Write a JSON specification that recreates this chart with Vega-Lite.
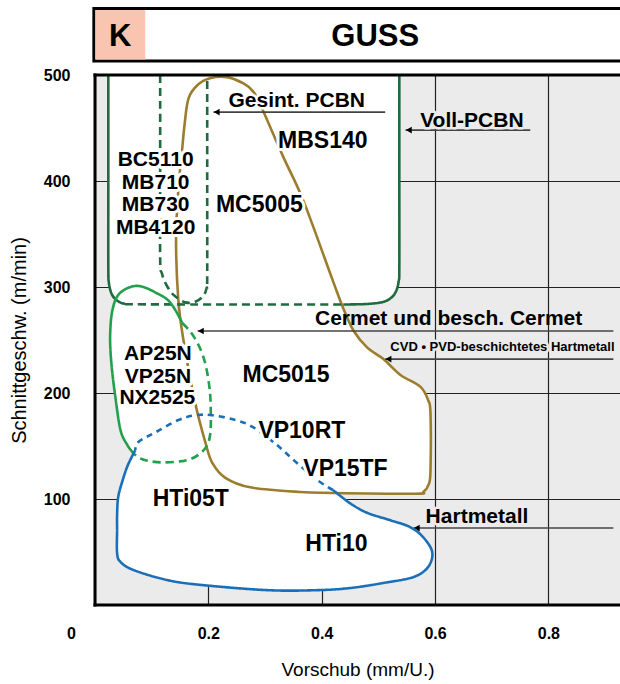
{
  "$schema": "https://vega.github.io/schema/vega-lite/v6.json",
  "width": 525,
  "height": 530,
  "autosize": "none",
  "padding": {"left": 95, "top": 75, "right": 0, "bottom": 79},
  "background": "white",
  "config": {
    "font": "Liberation Sans",
    "view": {"fill": "#ebebeb", "stroke": null},
    "axis": {"gridColor": "#222222", "gridWidth": 1.2, "ticks": false, "tickSize": 0, "domain": false, "labelColor": "black", "titleColor": "black", "labelFontWeight": "bold", "labelFontSize": 16, "titleFontWeight": "normal", "titleFontSize": 20, "labelFont": "Liberation Sans", "titleFont": "Liberation Sans"}
  },
  "datasets": {
    "fills": [
      {"s":"voll","i":1,"x":0.0235,"y":520},{"s":"voll","i":2,"x":0.0235,"y":500},{"s":"voll","i":3,"x":0.0235,"y":400},{"s":"voll","i":4,"x":0.0235,"y":320},{"s":"voll","i":5,"x":0.0245,"y":304},{"s":"voll","i":6,"x":0.029,"y":294},{"s":"voll","i":7,"x":0.036,"y":288.5},{"s":"voll","i":8,"x":0.045,"y":285.3},{"s":"voll","i":9,"x":0.053,"y":284},{"s":"voll","i":10,"x":0.2,"y":283.5},{"s":"voll","i":11,"x":0.3,"y":283.5},{"s":"voll","i":12,"x":0.438,"y":283.5},{"s":"voll","i":13,"x":0.48,"y":284},{"s":"voll","i":14,"x":0.509,"y":286},{"s":"voll","i":15,"x":0.524,"y":290.5},{"s":"voll","i":16,"x":0.532,"y":297},{"s":"voll","i":17,"x":0.536,"y":306},{"s":"voll","i":18,"x":0.537,"y":318},{"s":"voll","i":19,"x":0.537,"y":400},{"s":"voll","i":20,"x":0.537,"y":500},{"s":"voll","i":21,"x":0.537,"y":520},{"s":"voll","i":22,"x":0.3,"y":530},
      {"s":"brown","i":1,"x":0.147,"y":391.5},{"s":"brown","i":2,"x":0.154,"y":431},{"s":"brown","i":3,"x":0.158,"y":453},{"s":"brown","i":4,"x":0.165,"y":478},{"s":"brown","i":5,"x":0.181,"y":490.6},{"s":"brown","i":6,"x":0.203,"y":497},{"s":"brown","i":7,"x":0.233,"y":498},{"s":"brown","i":8,"x":0.262,"y":492},{"s":"brown","i":9,"x":0.278,"y":485},{"s":"brown","i":10,"x":0.29,"y":474},{"s":"brown","i":11,"x":0.332,"y":423},{"s":"brown","i":12,"x":0.368,"y":381},{"s":"brown","i":13,"x":0.419,"y":307},{"s":"brown","i":14,"x":0.438,"y":280},{"s":"brown","i":15,"x":0.456,"y":259},{"s":"brown","i":16,"x":0.48,"y":243},{"s":"brown","i":17,"x":0.509,"y":232},{"s":"brown","i":18,"x":0.539,"y":217},{"s":"brown","i":19,"x":0.574,"y":206},{"s":"brown","i":20,"x":0.588,"y":193},{"s":"brown","i":21,"x":0.592,"y":181},{"s":"brown","i":22,"x":0.592,"y":127},{"s":"brown","i":23,"x":0.589,"y":114},{"s":"brown","i":24,"x":0.58,"y":107},{"s":"brown","i":25,"x":0.565,"y":105},{"s":"brown","i":26,"x":0.42,"y":105.7},{"s":"brown","i":27,"x":0.362,"y":106.6},{"s":"brown","i":28,"x":0.274,"y":111},{"s":"brown","i":29,"x":0.23,"y":120},{"s":"brown","i":30,"x":0.207,"y":134},{"s":"brown","i":31,"x":0.195,"y":153},{"s":"brown","i":32,"x":0.177,"y":190},{"s":"brown","i":33,"x":0.156,"y":250},{"s":"brown","i":34,"x":0.147,"y":288},{"s":"brown","i":35,"x":0.143,"y":344},
      {"s":"cermet","i":1,"x":0.154,"y":266},{"s":"cermet","i":2,"x":0.142,"y":278},{"s":"cermet","i":3,"x":0.128,"y":288},{"s":"cermet","i":4,"x":0.106,"y":295},{"s":"cermet","i":5,"x":0.088,"y":299.5},{"s":"cermet","i":6,"x":0.071,"y":301},{"s":"cermet","i":7,"x":0.052,"y":297.5},{"s":"cermet","i":8,"x":0.038,"y":290},{"s":"cermet","i":9,"x":0.03,"y":276},{"s":"cermet","i":10,"x":0.027,"y":259},{"s":"cermet","i":11,"x":0.027,"y":243},{"s":"cermet","i":12,"x":0.03,"y":222},{"s":"cermet","i":13,"x":0.036,"y":196},{"s":"cermet","i":14,"x":0.045,"y":165},{"s":"cermet","i":15,"x":0.057,"y":151},{"s":"cermet","i":16,"x":0.068,"y":143},{"s":"cermet","i":17,"x":0.079,"y":138.5},{"s":"cermet","i":18,"x":0.093,"y":136},{"s":"cermet","i":19,"x":0.118,"y":134.5},{"s":"cermet","i":20,"x":0.15,"y":135.5},{"s":"cermet","i":21,"x":0.172,"y":138.5},{"s":"cermet","i":22,"x":0.189,"y":144.5},{"s":"cermet","i":23,"x":0.199,"y":152},{"s":"cermet","i":24,"x":0.204,"y":165},{"s":"cermet","i":25,"x":0.204,"y":190},{"s":"cermet","i":26,"x":0.202,"y":205},{"s":"cermet","i":27,"x":0.197,"y":222},{"s":"cermet","i":28,"x":0.19,"y":236},{"s":"cermet","i":29,"x":0.18,"y":248},{"s":"cermet","i":30,"x":0.168,"y":258},
      {"s":"hm","i":1,"x":0.071,"y":146},{"s":"hm","i":2,"x":0.058,"y":132},{"s":"hm","i":3,"x":0.049,"y":118},{"s":"hm","i":4,"x":0.041,"y":102},{"s":"hm","i":5,"x":0.039,"y":85},{"s":"hm","i":6,"x":0.039,"y":71},{"s":"hm","i":7,"x":0.039,"y":49},{"s":"hm","i":8,"x":0.045,"y":40.6},{"s":"hm","i":9,"x":0.068,"y":33},{"s":"hm","i":10,"x":0.127,"y":23.6},{"s":"hm","i":11,"x":0.186,"y":19},{"s":"hm","i":12,"x":0.304,"y":14},{"s":"hm","i":13,"x":0.392,"y":14},{"s":"hm","i":14,"x":0.45,"y":16},{"s":"hm","i":15,"x":0.509,"y":20.8},{"s":"hm","i":16,"x":0.562,"y":26.4},{"s":"hm","i":17,"x":0.588,"y":36},{"s":"hm","i":18,"x":0.595,"y":50},{"s":"hm","i":19,"x":0.579,"y":64},{"s":"hm","i":20,"x":0.556,"y":73.5},{"s":"hm","i":21,"x":0.521,"y":80},{"s":"hm","i":22,"x":0.48,"y":87},{"s":"hm","i":23,"x":0.45,"y":96},{"s":"hm","i":24,"x":0.42,"y":108.5},{"s":"hm","i":25,"x":0.392,"y":118},{"s":"hm","i":26,"x":0.35,"y":137},{"s":"hm","i":27,"x":0.321,"y":151},{"s":"hm","i":28,"x":0.278,"y":168},{"s":"hm","i":29,"x":0.248,"y":174.5},{"s":"hm","i":30,"x":0.207,"y":179},{"s":"hm","i":31,"x":0.177,"y":179},{"s":"hm","i":32,"x":0.147,"y":174.5},{"s":"hm","i":33,"x":0.107,"y":163},{"s":"hm","i":34,"x":0.077,"y":154}
    ],
    "strokes": [
      {"p":"voll_l","i":1,"x":0.0235,"y":500},{"p":"voll_l","i":2,"x":0.0235,"y":400},{"p":"voll_l","i":3,"x":0.0235,"y":320},{"p":"voll_l","i":4,"x":0.0245,"y":304},{"p":"voll_l","i":5,"x":0.029,"y":294},{"p":"voll_l","i":6,"x":0.036,"y":288.5},{"p":"voll_l","i":7,"x":0.045,"y":285.3},{"p":"voll_l","i":8,"x":0.053,"y":284},
      {"p":"voll_b","i":1,"x":0.053,"y":283.7},{"p":"voll_b","i":2,"x":0.2,"y":283.5},{"p":"voll_b","i":3,"x":0.3,"y":283.5},{"p":"voll_b","i":4,"x":0.438,"y":283.5},
      {"p":"voll_r","i":1,"x":0.438,"y":283.5},{"p":"voll_r","i":2,"x":0.48,"y":284},{"p":"voll_r","i":3,"x":0.509,"y":286},{"p":"voll_r","i":4,"x":0.524,"y":290.5},{"p":"voll_r","i":5,"x":0.532,"y":297},{"p":"voll_r","i":6,"x":0.536,"y":306},{"p":"voll_r","i":7,"x":0.537,"y":318},{"p":"voll_r","i":8,"x":0.537,"y":400},{"p":"voll_r","i":9,"x":0.537,"y":500},
      {"p":"gesint","i":1,"x":0.115,"y":500},{"p":"gesint","i":2,"x":0.115,"y":400},{"p":"gesint","i":3,"x":0.115,"y":325},{"p":"gesint","i":4,"x":0.118,"y":313},{"p":"gesint","i":5,"x":0.124,"y":304},{"p":"gesint","i":6,"x":0.133,"y":296},{"p":"gesint","i":7,"x":0.142,"y":291},{"p":"gesint","i":8,"x":0.159,"y":285.5},{"p":"gesint","i":9,"x":0.177,"y":286},{"p":"gesint","i":10,"x":0.191,"y":291.5},{"p":"gesint","i":11,"x":0.197,"y":299},{"p":"gesint","i":12,"x":0.198,"y":308},{"p":"gesint","i":13,"x":0.198,"y":400},{"p":"gesint","i":14,"x":0.198,"y":500},
      {"p":"cermet_s","i":1,"x":0.154,"y":266},{"p":"cermet_s","i":2,"x":0.142,"y":278},{"p":"cermet_s","i":3,"x":0.128,"y":288},{"p":"cermet_s","i":4,"x":0.106,"y":295},{"p":"cermet_s","i":5,"x":0.088,"y":299.5},{"p":"cermet_s","i":6,"x":0.071,"y":301},{"p":"cermet_s","i":7,"x":0.052,"y":297.5},{"p":"cermet_s","i":8,"x":0.038,"y":290},{"p":"cermet_s","i":9,"x":0.03,"y":276},{"p":"cermet_s","i":10,"x":0.027,"y":259},{"p":"cermet_s","i":11,"x":0.027,"y":243},{"p":"cermet_s","i":12,"x":0.03,"y":222},{"p":"cermet_s","i":13,"x":0.036,"y":196},{"p":"cermet_s","i":14,"x":0.045,"y":165},{"p":"cermet_s","i":15,"x":0.057,"y":151},{"p":"cermet_s","i":16,"x":0.068,"y":143},
      {"p":"cermet_d","i":1,"x":0.154,"y":266},{"p":"cermet_d","i":2,"x":0.168,"y":258},{"p":"cermet_d","i":3,"x":0.18,"y":248},{"p":"cermet_d","i":4,"x":0.19,"y":236},{"p":"cermet_d","i":5,"x":0.197,"y":222},{"p":"cermet_d","i":6,"x":0.202,"y":205},{"p":"cermet_d","i":7,"x":0.204,"y":190},{"p":"cermet_d","i":8,"x":0.204,"y":165},{"p":"cermet_d","i":9,"x":0.199,"y":152},{"p":"cermet_d","i":10,"x":0.189,"y":144.5},{"p":"cermet_d","i":11,"x":0.172,"y":138.5},{"p":"cermet_d","i":12,"x":0.15,"y":135.5},{"p":"cermet_d","i":13,"x":0.118,"y":134.5},{"p":"cermet_d","i":14,"x":0.093,"y":136},{"p":"cermet_d","i":15,"x":0.079,"y":138.5},{"p":"cermet_d","i":16,"x":0.068,"y":143},
      {"p":"hm_s","i":1,"x":0.071,"y":146},{"p":"hm_s","i":2,"x":0.058,"y":132},{"p":"hm_s","i":3,"x":0.049,"y":118},{"p":"hm_s","i":4,"x":0.041,"y":102},{"p":"hm_s","i":5,"x":0.039,"y":85},{"p":"hm_s","i":6,"x":0.039,"y":71},{"p":"hm_s","i":7,"x":0.039,"y":49},{"p":"hm_s","i":8,"x":0.045,"y":40.6},{"p":"hm_s","i":9,"x":0.068,"y":33},{"p":"hm_s","i":10,"x":0.127,"y":23.6},{"p":"hm_s","i":11,"x":0.186,"y":19},{"p":"hm_s","i":12,"x":0.304,"y":14},{"p":"hm_s","i":13,"x":0.392,"y":14},{"p":"hm_s","i":14,"x":0.45,"y":16},{"p":"hm_s","i":15,"x":0.509,"y":20.8},{"p":"hm_s","i":16,"x":0.562,"y":26.4},{"p":"hm_s","i":17,"x":0.588,"y":36},{"p":"hm_s","i":18,"x":0.595,"y":50},{"p":"hm_s","i":19,"x":0.579,"y":64},{"p":"hm_s","i":20,"x":0.556,"y":73.5},{"p":"hm_s","i":21,"x":0.521,"y":80},{"p":"hm_s","i":22,"x":0.48,"y":87},{"p":"hm_s","i":23,"x":0.45,"y":96},{"p":"hm_s","i":24,"x":0.42,"y":108.5},
      {"p":"hm_d","i":1,"x":0.42,"y":108.5},{"p":"hm_d","i":2,"x":0.392,"y":118},{"p":"hm_d","i":3,"x":0.35,"y":137},{"p":"hm_d","i":4,"x":0.321,"y":151},{"p":"hm_d","i":5,"x":0.278,"y":168},{"p":"hm_d","i":6,"x":0.248,"y":174.5},{"p":"hm_d","i":7,"x":0.207,"y":179},{"p":"hm_d","i":8,"x":0.177,"y":179},{"p":"hm_d","i":9,"x":0.147,"y":174.5},{"p":"hm_d","i":10,"x":0.107,"y":163},{"p":"hm_d","i":11,"x":0.077,"y":154},{"p":"hm_d","i":12,"x":0.071,"y":146}
    ],
    "labels": [
      {"g":"pcbn","label":"BC5110","x":0.107,"y":420.8},
      {"g":"pcbn","label":"MB710","x":0.107,"y":399.2},
      {"g":"pcbn","label":"MB730","x":0.107,"y":378},
      {"g":"pcbn","label":"MB4120","x":0.107,"y":356.6},
      {"g":"main","label":"MBS140","x":0.402,"y":438.7},
      {"g":"main","label":"MC5005","x":0.29,"y":378},
      {"g":"cermet","label":"AP25N","x":0.111,"y":238},
      {"g":"cermet","label":"VP25N","x":0.111,"y":216},
      {"g":"cermet","label":"NX2525","x":0.11,"y":195.8},
      {"g":"main","label":"MC5015","x":0.337,"y":217.5},
      {"g":"main","label":"VP10RT","x":0.365,"y":165},
      {"g":"main","label":"VP15TF","x":0.442,"y":129},
      {"g":"main","label":"HTi05T","x":0.169,"y":101},
      {"g":"main","label":"HTi10","x":0.426,"y":58.5}
    ],
    "notes": [
      {"k":"gesint","label":"Gesint. PCBN","tx":0.356,"ty":476.4,"x1":0.209,"x2":0.512,"ly":465},
      {"k":"voll","label":"Voll-PCBN","tx":0.665,"ty":458,"x1":0.548,"x2":0.768,"ly":448},
      {"k":"cermet","label":"Cermet und besch. Cermet","tx":0.624,"ty":271,"x1":0.181,"x2":0.9146,"ly":258.5},
      {"k":"cvd","label":"CVD • PVD-beschichtetes Hartmetall","tx":0.719,"ty":244,"x1":0.512,"x2":0.9146,"ly":232},
      {"k":"hart","label":"Hartmetall","tx":0.674,"ty":84.4,"x1":0.562,"x2":0.9146,"ly":72.6}
    ]
  },
  "layer": [
    {
      "data": {"name": "fills"},
      "mark": {"type": "line", "interpolate": "cardinal-closed", "fill": "white", "strokeOpacity": 0, "clip": true},
      "encoding": {
        "x": {"field": "x", "type": "quantitative", "scale": {"domain": [0, 0.9264], "nice": false, "zero": false},
              "axis": {"title": "Vorschub (mm/U.)", "values": [0, 0.2, 0.4, 0.6, 0.8], "labelExpr": "datum.value == 0 ? '0' : format(datum.value, '.1f')", "labelFlush": false, "labelOffset": {"condition": {"test": "datum.value == 0", "value": -24}, "value": 0}, "labelPadding": 20, "titlePadding": 19, "titleFontSize": 19, "grid": true}},
        "y": {"field": "y", "type": "quantitative", "scale": {"domain": [0, 500], "nice": false, "zero": false},
              "axis": {"title": "Schnittgeschw. (m/min)", "values": [100, 200, 300, 400, 500], "labelPadding": 25, "titlePadding": 14, "grid": true}},
        "detail": {"field": "s", "type": "nominal"},
        "order": {"field": "i", "type": "quantitative"}
      }
    },
    {
      "data": {"name": "fills"},
      "transform": [{"filter": "datum.s === 'brown'"}],
      "mark": {"type": "line", "interpolate": "cardinal-closed", "stroke": "#9c7d2e", "strokeWidth": 2.6},
      "encoding": {
        "x": {"field": "x", "type": "quantitative"},
        "y": {"field": "y", "type": "quantitative"},
        "order": {"field": "i", "type": "quantitative"}
      }
    },
    {
      "data": {"name": "notes"},
      "mark": {"type": "rule", "color": "#444444", "strokeWidth": 1.6},
      "encoding": {
        "x": {"field": "x1", "type": "quantitative"},
        "x2": {"field": "x2"},
        "y": {"field": "ly", "type": "quantitative"}
      }
    },
    {
      "data": {"name": "notes"},
      "mark": {"type": "point", "shape": "triangle-left", "filled": true, "color": "black", "opacity": 1, "size": 45, "xOffset": 3.3},
      "encoding": {
        "x": {"field": "x1", "type": "quantitative"},
        "y": {"field": "ly", "type": "quantitative"}
      }
    },
    {
      "data": {"name": "strokes"},
      "mark": {"type": "line", "interpolate": "cardinal", "strokeWidth": 2.6},
      "encoding": {
        "x": {"field": "x", "type": "quantitative"},
        "y": {"field": "y", "type": "quantitative"},
        "color": {"field": "p", "type": "nominal", "legend": null,
                  "scale": {"domain": ["voll_l", "voll_r", "voll_b", "gesint", "cermet_s", "cermet_d", "hm_s", "hm_d"],
                            "range": ["#1f6b3f", "#1f6b3f", "#1f6b3f", "#1f6b3f", "#22a04b", "#22a04b", "#1b6fb8", "#1b6fb8"]}},
        "strokeDash": {"field": "p", "type": "nominal", "legend": null,
                  "scale": {"domain": ["voll_l", "voll_r", "voll_b", "gesint", "cermet_s", "cermet_d", "hm_s", "hm_d"],
                            "range": [[1, 0], [1, 0], [8, 5], [8, 5], [1, 0], [8, 5], [1, 0], [6, 5]]}},
        "order": {"field": "i", "type": "quantitative"}
      }
    },
    {
      "data": {"name": "labels"},
      "transform": [{"filter": "datum.g === 'main'"}],
      "mark": {"type": "text", "fontWeight": "bold", "fontSize": 23, "fill": "white", "stroke": "white", "strokeWidth": 6, "strokeJoin": "round", "baseline": "middle", "dy": 1},
      "encoding": {
        "x": {"field": "x", "type": "quantitative"},
        "y": {"field": "y", "type": "quantitative"},
        "text": {"field": "label"}
      }
    },
    {
      "data": {"name": "labels"},
      "transform": [{"filter": "datum.g !== 'main'"}],
      "mark": {"type": "text", "fontWeight": "bold", "fontSize": 21, "fill": "white", "stroke": "white", "strokeWidth": 6, "strokeJoin": "round", "baseline": "middle", "dy": 1},
      "encoding": {
        "x": {"field": "x", "type": "quantitative"},
        "y": {"field": "y", "type": "quantitative"},
        "text": {"field": "label"}
      }
    },
    {
      "data": {"name": "labels"},
      "transform": [{"filter": "datum.g === 'main'"}],
      "mark": {"type": "text", "fontWeight": "bold", "fontSize": 23, "color": "black", "baseline": "middle", "dy": 1},
      "encoding": {
        "x": {"field": "x", "type": "quantitative"},
        "y": {"field": "y", "type": "quantitative"},
        "text": {"field": "label"}
      }
    },
    {
      "data": {"name": "labels"},
      "transform": [{"filter": "datum.g !== 'main'"}],
      "mark": {"type": "text", "fontWeight": "bold", "fontSize": 21, "color": "black", "baseline": "middle", "dy": 1},
      "encoding": {
        "x": {"field": "x", "type": "quantitative"},
        "y": {"field": "y", "type": "quantitative"},
        "text": {"field": "label"}
      }
    },
    {
      "data": {"name": "notes"},
      "transform": [{"filter": "datum.k === 'gesint' || datum.k === 'voll' || datum.k === 'hart'"}],
      "mark": {"type": "text", "fontWeight": "bold", "fontSize": 21, "strokeWidth": 5, "strokeJoin": "round", "baseline": "middle", "dy": 1},
      "encoding": {
        "x": {"field": "tx", "type": "quantitative"},
        "y": {"field": "ty", "type": "quantitative"},
        "text": {"field": "label"},
        "stroke": {"field": "k", "type": "nominal", "legend": null, "scale": {"domain": ["gesint", "voll", "hart"], "range": ["#ffffff", "#ebebeb", "#ebebeb"]}},
        "fill": {"field": "k", "type": "nominal", "legend": null, "scale": {"domain": ["gesint", "voll", "hart"], "range": ["#ffffff", "#ebebeb", "#ebebeb"]}}
      }
    },
    {
      "data": {"name": "notes"},
      "transform": [{"filter": "datum.k === 'cvd'"}],
      "mark": {"type": "text", "fontWeight": "bold", "fontSize": 13, "fill": "#ebebeb", "stroke": "#ebebeb", "strokeWidth": 5, "strokeJoin": "round", "baseline": "middle", "dy": 1},
      "encoding": {
        "x": {"field": "tx", "type": "quantitative"},
        "y": {"field": "ty", "type": "quantitative"},
        "text": {"field": "label"}
      }
    },
    {
      "data": {"name": "notes"},
      "transform": [{"filter": "datum.k !== 'cvd'"}],
      "mark": {"type": "text", "fontWeight": "bold", "fontSize": 21, "color": "black", "baseline": "middle", "dy": 1},
      "encoding": {
        "x": {"field": "tx", "type": "quantitative"},
        "y": {"field": "ty", "type": "quantitative"},
        "text": {"field": "label"}
      }
    },
    {
      "data": {"name": "notes"},
      "transform": [{"filter": "datum.k === 'cvd'"}],
      "mark": {"type": "text", "fontWeight": "bold", "fontSize": 13, "color": "black", "baseline": "middle", "dy": 1},
      "encoding": {
        "x": {"field": "tx", "type": "quantitative"},
        "y": {"field": "ty", "type": "quantitative"},
        "text": {"field": "label"}
      }
    },
    {
      "data": {"values": [{}]},
      "mark": {"type": "rule", "color": "black", "strokeWidth": 3, "strokeCap": "square"},
      "encoding": {"x": {"datum": 0}, "y": {"datum": 0}, "y2": {"datum": 500}}
    },
    {
      "data": {"values": [{}]},
      "mark": {"type": "rule", "color": "black", "strokeWidth": 3, "strokeCap": "square"},
      "encoding": {"x": {"datum": 0}, "x2": {"datum": 0.96}, "y": {"datum": 0}}
    },
    {
      "data": {"values": [{}]},
      "mark": {"type": "rule", "color": "black", "strokeWidth": 3, "strokeCap": "square"},
      "encoding": {"x": {"datum": 0}, "x2": {"datum": 0.96}, "y": {"datum": 500}}
    },
    {
      "data": {"values": [{}]},
      "mark": {"type": "rect", "fill": "white", "stroke": "black", "strokeWidth": 3},
      "encoding": {"x": {"datum": -0.002}, "x2": {"datum": 0.96}, "y": {"datum": 513.2}, "y2": {"datum": 562.7}}
    },
    {
      "data": {"values": [{}]},
      "mark": {"type": "rect", "fill": "#f9c5b0", "strokeWidth": 0},
      "encoding": {"x": {"datum": 0.0008}, "x2": {"datum": 0.0887}, "y": {"datum": 514.6}, "y2": {"datum": 561.3}}
    },
    {
      "data": {"values": [{"t": "K"}]},
      "mark": {"type": "text", "fontWeight": "bold", "fontSize": 31, "color": "black", "baseline": "middle", "dy": 2},
      "encoding": {"x": {"datum": 0.0446}, "y": {"datum": 537.7}, "text": {"field": "t"}}
    },
    {
      "data": {"values": [{"t": "GUSS"}]},
      "mark": {"type": "text", "fontWeight": "bold", "fontSize": 31, "color": "black", "baseline": "middle", "dy": 2},
      "encoding": {"x": {"datum": 0.4946}, "y": {"datum": 537.7}, "text": {"field": "t"}}
    }
  ]
}
